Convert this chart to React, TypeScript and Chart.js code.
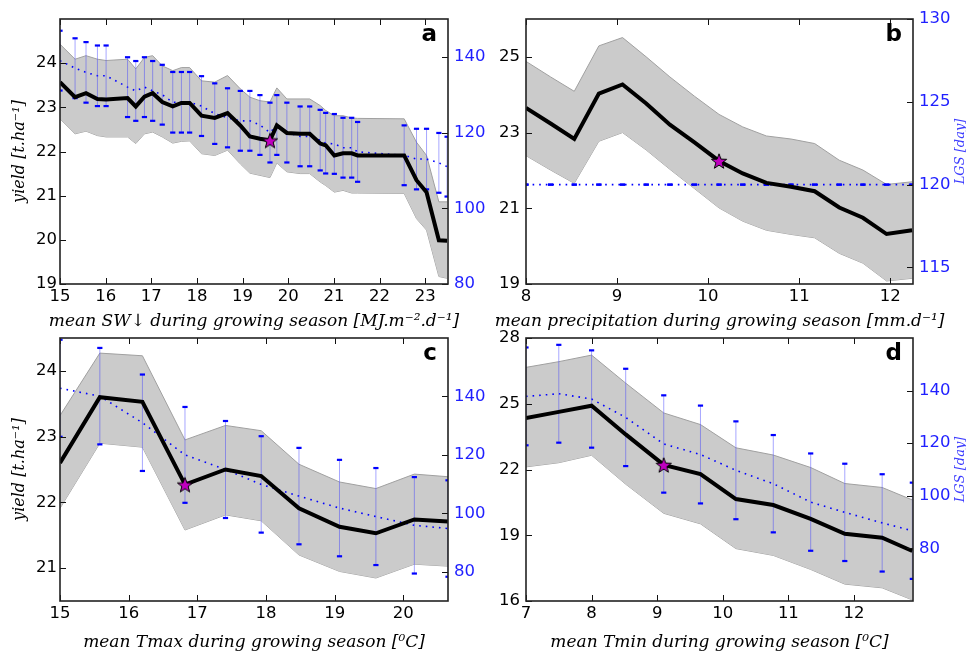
import React, { useEffect, useRef } from 'react';
import { Chart, registerables } from 'chart.js';
Chart.register(...registerables);

// ---------- panel a : shortwave radiation ----------
const swX = [15.0, 15.33, 15.57, 15.82, 16.01, 16.48, 16.66, 16.85, 17.03, 17.24, 17.47, 17.66, 17.84, 18.10, 18.39, 18.67, 18.95, 19.16, 19.38, 19.60, 19.75, 19.97, 20.26, 20.47, 20.70, 20.82, 21.01, 21.20, 21.39, 21.52, 22.54, 22.81, 23.03, 23.30, 23.48];
const swYield = [23.57, 23.23, 23.32, 23.19, 23.18, 23.21, 23.02, 23.24, 23.32, 23.12, 23.02, 23.10, 23.10, 22.81, 22.76, 22.87, 22.59, 22.34, 22.29, 22.25, 22.59, 22.42, 22.40, 22.40, 22.18, 22.14, 21.91, 21.96, 21.96, 21.91, 21.91, 21.35, 21.08, 19.99, 19.98];
const swUpper = [24.43, 24.09, 24.17, 24.09, 24.06, 24.09, 23.87, 24.13, 24.17, 23.94, 23.83, 23.90, 23.90, 23.60, 23.57, 23.72, 23.42, 23.23, 23.15, 23.12, 23.44, 23.19, 23.19, 23.19, 23.04, 22.93, 22.81, 22.81, 22.76, 22.75, 22.74, 22.21, 21.91, 20.86, 20.86];
const swLower = [22.74, 22.40, 22.46, 22.36, 22.33, 22.33, 22.18, 22.40, 22.44, 22.33, 22.19, 22.23, 22.24, 21.95, 21.91, 22.03, 21.72, 21.51, 21.46, 21.41, 21.74, 21.54, 21.50, 21.50, 21.31, 21.23, 21.08, 21.12, 21.06, 21.06, 21.05, 20.48, 20.22, 19.17, 19.13];
const swLgs = [139.0, 137.0, 135.9, 135.0, 135.0, 132.0, 131.0, 132.0, 131.0, 130.0, 128.0, 128.0, 128.0, 127.0, 125.0, 123.9, 123.1, 123.1, 122.0, 120.0, 122.0, 120.0, 119.0, 119.0, 118.0, 117.2, 117.0, 116.0, 116.0, 114.9, 114.0, 113.0, 113.0, 112.0, 111.0];
const swLgsSd = [7.9, 7.9, 8.0, 8.0, 8.0, 7.9, 7.9, 7.9, 7.9, 7.9, 8.0, 8.0, 8.0, 7.9, 8.0, 7.8, 7.9, 7.9, 7.9, 7.9, 7.9, 7.9, 7.9, 7.9, 8.0, 8.0, 7.9, 7.9, 7.9, 7.9, 7.9, 8.0, 8.0, 7.9, 7.9];
const swStar = [19.6, 22.25];
const swXTicks = [15, 16, 17, 18, 19, 20, 21, 22, 23];
const swYTicks = [19, 20, 21, 22, 23, 24];
const swY1Ticks = [80, 100, 120, 140];

// ---------- panel b : precipitation ----------
const prX = [8.0, 8.27, 8.53, 8.80, 9.06, 9.32, 9.58, 9.85, 10.12, 10.38, 10.64, 10.91, 11.17, 11.44, 11.70, 11.96, 12.24];
const prYield = [23.65, 23.24, 22.83, 24.03, 24.27, 23.77, 23.21, 22.74, 22.25, 21.92, 21.67, 21.57, 21.45, 21.02, 20.75, 20.32, 20.42];
const prUpper = [24.88, 24.47, 24.09, 25.29, 25.51, 25.0, 24.47, 23.96, 23.48, 23.15, 22.91, 22.83, 22.71, 22.27, 22.01, 21.63, 21.70];
const prLower = [22.39, 22.01, 21.66, 22.77, 23.0, 22.54, 22.03, 21.52, 21.01, 20.66, 20.42, 20.31, 20.22, 19.81, 19.55, 19.08, 19.15];
const prLgs = [120, 120, 120, 120, 120, 120, 120, 120, 120, 120, 120, 120, 120, 120, 120, 120, 120];
const prLgsSd = [0, 0, 0, 0, 0, 0, 0, 0, 0, 0, 0, 0, 0, 0, 0, 0, 0];
const prStar = [10.12, 22.25];
const prXTicks = [8, 9, 10, 11, 12];
const prYTicks = [19, 21, 23, 25];
const prY1Ticks = [115, 120, 125, 130];

// ---------- panel c : Tmax ----------
const txX = [15.0, 15.58, 16.20, 16.82, 17.41, 17.93, 18.48, 19.07, 19.60, 20.16, 20.65];
const txYield = [22.60, 23.60, 23.53, 22.27, 22.50, 22.40, 21.91, 21.63, 21.53, 21.74, 21.71];
const txUpper = [23.32, 24.27, 24.23, 22.95, 23.17, 23.09, 22.58, 22.31, 22.21, 22.43, 22.39];
const txLower = [21.91, 22.90, 22.84, 21.58, 21.81, 21.72, 21.20, 20.95, 20.85, 21.06, 21.03];
const txLgs = [142.8, 140.1, 131.0, 120.0, 115.0, 109.9, 105.9, 101.8, 98.9, 95.9, 94.8];
const txLgsSd = [16.6, 16.5, 16.5, 16.4, 16.6, 16.5, 16.5, 16.5, 16.6, 16.5, 16.5];
const txStar = [16.82, 22.27];
const txXTicks = [15, 16, 17, 18, 19, 20];
const txYTicks = [21, 22, 23, 24];
const txY1Ticks = [80, 100, 120, 140];

// ---------- panel d : Tmin ----------
const tnX = [7.0, 7.50, 8.0, 8.52, 9.10, 9.66, 10.20, 10.77, 11.34, 11.86, 12.43, 12.89];
const tnYield = [24.35, 24.63, 24.91, 23.60, 22.21, 21.79, 20.65, 20.38, 19.75, 19.07, 18.89, 18.28];
const tnUpper = [26.66, 26.92, 27.22, 25.94, 24.58, 24.05, 22.99, 22.66, 22.09, 21.36, 21.18, 20.61];
const tnLower = [22.12, 22.31, 22.65, 21.33, 20.00, 19.52, 18.39, 18.08, 17.44, 16.77, 16.60, 16.05];
const tnLgs = [137.8, 138.8, 136.8, 129.8, 119.7, 115.7, 109.7, 104.6, 97.6, 93.7, 89.7, 86.7];
const tnLgsSd = [18.6, 18.6, 18.5, 18.5, 18.5, 18.6, 18.6, 18.5, 18.5, 18.5, 18.5, 18.3];
const tnStar = [9.10, 22.21];
const tnXTicks = [7, 8, 9, 10, 11, 12];
const tnYTicks = [16, 19, 22, 25, 28];
const tnY1Ticks = [80, 100, 120, 140];

const W = 966;
const H = 653;

type Panel = {
  letter: string;
  xs: number[]; yld: number[]; up: number[]; lo: number[]; lgs: number[]; sd: number[]; star: number[];
  xRange: number[]; yRange: number[]; y1Range: number[];
  xTicks: number[]; yTicks: number[]; y1Ticks: number[];
  area: { l: number; t: number; r: number; b: number };
  wl: number; wr: number; hx: number; leftPad: number; xTitleDy: number;
  xTitle: string; yTitle: string | null; lgsTitle: boolean;
};

const panels: Panel[] = [
  {
    letter: 'a', xs: swX, yld: swYield, up: swUpper, lo: swLower, lgs: swLgs, sd: swLgsSd, star: swStar,
    xRange: [15, 23.5], yRange: [19, 25], y1Range: [80, 150],
    xTicks: swXTicks, yTicks: swYTicks, y1Ticks: swY1Ticks,
    area: { l: 60, t: 19, r: 448, b: 284 }, wl: 60, wr: 40, hx: 48, leftPad: 3, xTitleDy: 38,
    xTitle: 'mean SW↓ during growing season [MJ.m⁻².d⁻¹]', yTitle: 'yield [t.ha⁻¹]', lgsTitle: false,
  },
  {
    letter: 'b', xs: prX, yld: prYield, up: prUpper, lo: prLower, lgs: prLgs, sd: prLgsSd, star: prStar,
    xRange: [8, 12.25], yRange: [19, 26], y1Range: [114, 130],
    xTicks: prXTicks, yTicks: prYTicks, y1Ticks: prY1Ticks,
    area: { l: 526, t: 19, r: 913, b: 284 }, wl: 46, wr: 53, hx: 48, leftPad: 6, xTitleDy: 38,
    xTitle: 'mean precipitation during growing season [mm.d⁻¹]', yTitle: null, lgsTitle: true,
  },
  {
    letter: 'c', xs: txX, yld: txYield, up: txUpper, lo: txLower, lgs: txLgs, sd: txLgsSd, star: txStar,
    xRange: [15, 20.65], yRange: [20.5, 24.5], y1Range: [70, 160],
    xTicks: txXTicks, yTicks: txYTicks, y1Ticks: txY1Ticks,
    area: { l: 60, t: 338, r: 448, b: 601 }, wl: 60, wr: 40, hx: 52, leftPad: 3, xTitleDy: 42,
    xTitle: 'mean Tmax during growing season [⁰C]', yTitle: 'yield [t.ha⁻¹]', lgsTitle: false,
  },
  {
    letter: 'd', xs: tnX, yld: tnYield, up: tnUpper, lo: tnLower, lgs: tnLgs, sd: tnLgsSd, star: tnStar,
    xRange: [7, 12.9], yRange: [16, 28], y1Range: [60, 160],
    xTicks: tnXTicks, yTicks: tnYTicks, y1Ticks: tnY1Ticks,
    area: { l: 526, t: 338, r: 913, b: 601 }, wl: 46, wr: 53, hx: 52, leftPad: 6, xTitleDy: 42,
    xTitle: 'mean Tmin during growing season [⁰C]', yTitle: null, lgsTitle: true,
  },
];

function makeStar(): HTMLCanvasElement {
  const c = document.createElement('canvas');
  const s = 18;
  c.width = s; c.height = s;
  const ctx = c.getContext('2d')!;
  const cx = s / 2, cy = s / 2 + 0.8, R = 8, r = 3.3;
  ctx.beginPath();
  for (let i = 0; i < 10; i++) {
    const rad = i % 2 === 0 ? R : r;
    const a = -Math.PI / 2 + (i * Math.PI) / 5;
    const px = cx + rad * Math.cos(a), py = cy + rad * Math.sin(a);
    if (i === 0) ctx.moveTo(px, py); else ctx.lineTo(px, py);
  }
  ctx.closePath();
  ctx.fillStyle = '#bf00bf';
  ctx.fill();
  ctx.lineWidth = 1;
  ctx.strokeStyle = '#000';
  ctx.stroke();
  return c;
}

const tickFont = { family: '"DejaVu Sans", sans-serif', size: 16.5 };
const yTitleFont = { family: '"DejaVu Serif", serif', size: 16, style: 'italic' as const };
const BLUE = '#1f1fff';

function PanelChart({ p }: { p: Panel }) {
  const ref = useRef<HTMLCanvasElement | null>(null);
  useEffect(() => {
    if (!ref.current) return;
    const star = makeStar();
    const band = '#cbcbcb';
    const bandEdge = '#a0a0a0';
    const upData = p.xs.map((x, i) => ({ x, y: p.up[i] }));
    const loData = p.xs.map((x, i) => ({ x, y: p.lo[i] }));
    const yldData = p.xs.map((x, i) => ({ x, y: p.yld[i] }));
    const lgsData = p.xs.map((x, i) => ({ x, y: p.lgs[i] }));
    const barData: { x: number; y: number | null }[] = [];
    const capData: { x: number; y: number }[] = [];
    p.xs.forEach((x, i) => {
      barData.push({ x, y: p.lgs[i] - p.sd[i] }, { x, y: p.lgs[i] + p.sd[i] }, { x, y: null });
      capData.push({ x, y: p.lgs[i] + p.sd[i] }, { x, y: p.lgs[i] - p.sd[i] });
    });

    const framePlugin = {
      id: 'frame' + p.letter,
      afterDraw(chart: any) {
        const { ctx, chartArea: a, scales } = chart;
        ctx.save();
        ctx.strokeStyle = '#111';
        ctx.lineWidth = 1;
        ctx.beginPath();
        scales.x.ticks.forEach((t: any) => {
          const px = Math.round(scales.x.getPixelForValue(t.value)) + 0.5;
          ctx.moveTo(px, a.bottom); ctx.lineTo(px, a.bottom - 6);
          ctx.moveTo(px, a.top); ctx.lineTo(px, a.top + 6);
        });
        scales.y.ticks.forEach((t: any) => {
          const py = Math.round(scales.y.getPixelForValue(t.value)) + 0.5;
          ctx.moveTo(a.left, py); ctx.lineTo(a.left + 6, py);
        });
        scales.y1.ticks.forEach((t: any) => {
          const py = Math.round(scales.y1.getPixelForValue(t.value)) + 0.5;
          ctx.moveTo(a.right, py); ctx.lineTo(a.right - 6, py);
        });
        ctx.stroke();
        ctx.lineWidth = 1.6;
        ctx.strokeStyle = '#222';
        ctx.strokeRect(a.left, a.top, a.right - a.left, a.bottom - a.top);
        ctx.fillStyle = '#000';
        ctx.font = 'bold 23px "DejaVu Sans", sans-serif';
        ctx.textAlign = 'right';
        ctx.textBaseline = 'alphabetic';
        ctx.fillText(p.letter, a.right - 11, a.top + 22);
        // x-axis title (drawn without width compression)
        ctx.font = 'italic 17px "DejaVu Serif", serif';
        ctx.textAlign = 'center';
        ctx.textBaseline = 'middle';
        ctx.fillText(p.xTitle, (a.left + a.right) / 2, a.bottom + p.xTitleDy);
        if (p.lgsTitle) {
          ctx.translate(961, (a.top + a.bottom) / 2);
          ctx.rotate(-Math.PI / 2);
          ctx.font = 'italic 13px "DejaVu Serif", serif';
          ctx.fillStyle = '#3b3bff';
          ctx.textAlign = 'center';
          ctx.textBaseline = 'middle';
          ctx.fillText('LGS [day]', 0, 0);
        }
        ctx.restore();
      },
    };

    const chart = new Chart(ref.current, {
      type: 'line',
      data: {
        datasets: [
          { data: [{ x: p.star[0], y: p.star[1] }], yAxisID: 'y', showLine: false, pointStyle: star as any, pointRadius: 9, order: 0 },
          { data: yldData, yAxisID: 'y', borderColor: '#000', borderWidth: 4, pointRadius: 0, tension: 0, order: 1, borderJoinStyle: 'miter' },
          { data: capData, yAxisID: 'y1', showLine: false, pointStyle: 'line', pointRadius: 2.6, pointBorderWidth: 2.2, pointBorderColor: '#0000ff', borderColor: '#0000ff', order: 2 },
          { data: barData, yAxisID: 'y1', borderColor: 'rgba(60,60,255,0.45)', borderWidth: 1, pointRadius: 0, spanGaps: false, order: 3 },
          { data: lgsData, yAxisID: 'y1', borderColor: '#0000ff', borderWidth: 1.6, borderDash: [1.6, 5], pointRadius: 0, tension: 0, order: 4 },
          { data: upData, yAxisID: 'y', borderColor: bandEdge, borderWidth: 1, backgroundColor: band, fill: '+1', pointRadius: 0, tension: 0, order: 5 },
          { data: loData, yAxisID: 'y', borderColor: bandEdge, borderWidth: 1, pointRadius: 0, tension: 0, fill: false, order: 6 },
        ] as any,
      },
      options: {
        responsive: false,
        animation: false,
        devicePixelRatio: 1,
        events: [],
        layout: {
          padding: {
            left: p.area.l - p.wl,
            right: W - p.area.r - p.wr,
            top: p.area.t,
            bottom: H - p.area.b - p.hx,
          },
        },
        plugins: { legend: { display: false }, tooltip: { enabled: false } },
        scales: {
          x: {
            type: 'linear', position: 'bottom', min: p.xRange[0], max: p.xRange[1],
            grid: { display: false, drawTicks: false }, border: { display: false },
            ticks: { font: tickFont, color: '#000', padding: 3, maxRotation: 0, autoSkip: false },
            afterBuildTicks: (s: any) => { s.ticks = p.xTicks.map((v) => ({ value: v })); },
            afterFit: (s: any) => { s.height = p.hx; },
            title: { display: false },
          },
          y: {
            type: 'linear', position: 'left', min: p.yRange[0], max: p.yRange[1],
            grid: { display: false, drawTicks: false }, border: { display: false },
            ticks: { font: tickFont, color: '#000', padding: p.leftPad, autoSkip: false },
            afterBuildTicks: (s: any) => { s.ticks = p.yTicks.map((v) => ({ value: v })); },
            afterFit: (s: any) => { s.width = p.wl; },
            title: { display: !!p.yTitle, text: p.yTitle || '', font: yTitleFont, color: '#000', padding: { top: 10, bottom: 0 } },
          },
          y1: {
            type: 'linear', position: 'right', min: p.y1Range[0], max: p.y1Range[1],
            grid: { display: false, drawTicks: false }, border: { display: false },
            ticks: { font: tickFont, color: BLUE, padding: 6, autoSkip: false },
            afterBuildTicks: (s: any) => { s.ticks = p.y1Ticks.map((v) => ({ value: v })); },
            afterFit: (s: any) => { s.width = p.wr; },
          },
        },
      } as any,
      plugins: [framePlugin],
    });
    return () => chart.destroy();
  }, [p]);
  return (
    <canvas
      ref={ref}
      width={W}
      height={H}
      style={{ position: 'absolute', left: 0, top: 0, width: W, height: H }}
    />
  );
}

export default function App() {
  return (
    <div style={{ position: 'fixed', left: 0, top: 0, width: W, height: H, overflow: 'hidden', background: '#fff' }}>
      {panels.map((p) => (
        <PanelChart key={p.letter} p={p} />
      ))}
    </div>
  );
}
